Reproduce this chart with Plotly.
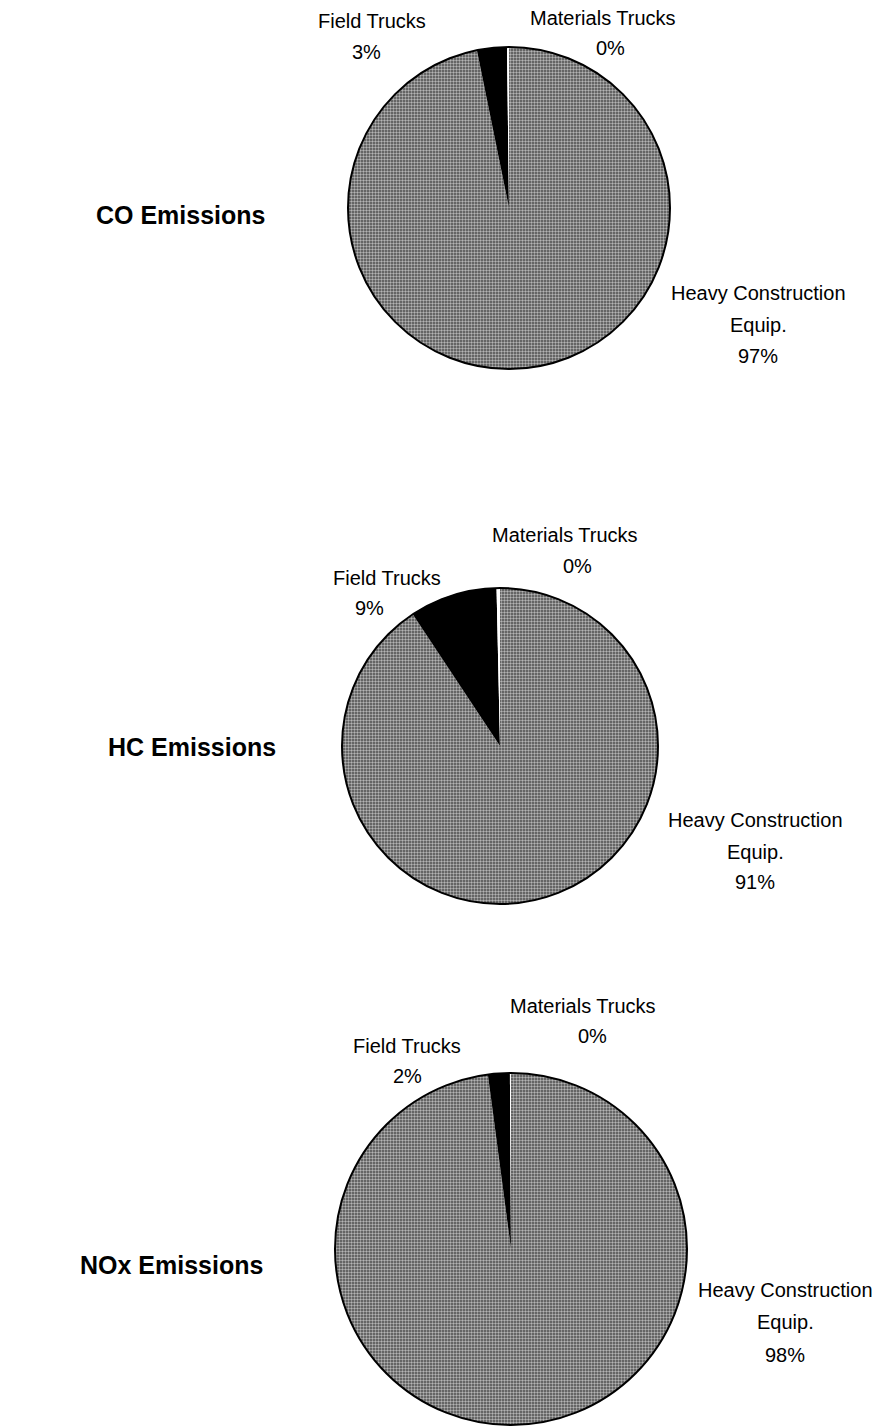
import plotly.graph_objects as go

PAGE_W, PAGE_H = 889, 1426
OFF = 8  # default body margin of the html page
W, H = PAGE_W - OFF, PAGE_H - OFF

categories = ["Heavy Construction Equip.", "Field Trucks", "Materials Trucks"]
pollutants = ["CO Emissions", "HC Emissions", "NOx Emissions"]
co_values = [97, 3, 0.2]
hc_values = [91, 9, 0.35]
nox_values = [98, 2, 0.1]
all_values = [co_values, hc_values, nox_values]

slice_colors = ["#7a7a7a", "#000000", "#ffffff"]

# pie geometry in page pixels: (center x, center y, radius)
pies = [(509, 208, 161), (500, 746, 158), (511, 1249, 176)]
# title right edge and vertical center
title_pos = [(268, 215), (278, 747), (265, 1265)]
# per chart: heavy lines (x, [y1, y2, y3]); field (name xy, pct xy); materials (name xy, pct xy)
heavy_pos = [(758, [293, 325, 356]), (755, [820, 852, 882]), (785, [1290, 1322, 1355])]
field_pos = [((372, 21), (366, 52)), ((387, 578), (369, 608)), ((407, 1046), (407, 1076))]
mat_pos = [((603, 18), (610, 48)), ((565, 535), (577, 566)), ((583, 1006), (592, 1036))]

FONT = "Liberation Sans, Arial, sans-serif"

fig = go.Figure()
annotations = []
shapes = []


def px(x):
    return (x - OFF) / W


def py(y):
    return 1 - (y - OFF) / H


def add_text(x, y, t, size=20, anchor="center", bold=False):
    annotations.append(dict(x=px(x), y=py(y), xref="paper", yref="paper",
                            text=("<b>%s</b>" % t) if bold else t, showarrow=False,
                            font=dict(family=FONT, size=size, color="black"),
                            xanchor=anchor, yanchor="middle"))


for i, (vals, (cx, cy, r)) in enumerate(zip(all_values, pies)):
    fig.add_trace(go.Pie(
        labels=categories,
        values=vals,
        sort=False,
        direction="clockwise",
        rotation=0,
        marker=dict(colors=slice_colors, line=dict(width=0),
                    pattern=dict(shape=[".", "", ""], fgcolor="#b4b4b4",
                                 bgcolor="#4a4a4a", size=3, solidity=0.5,
                                 fillmode="replace")),
        textinfo="none",
        hoverinfo="label+percent",
        showlegend=False,
        domain=dict(x=[px(cx - r), px(cx + r)], y=[py(cy + r), py(cy - r)]),
    ))
    shapes.append(dict(type="circle", xref="paper", yref="paper",
                       x0=px(cx - r), x1=px(cx + r), y0=py(cy + r), y1=py(cy - r),
                       line=dict(color="black", width=2), layer="above"))
    tx, ty = title_pos[i]
    add_text(tx, ty, pollutants[i], size=25, anchor="right", bold=True)

    total = sum(vals)
    pcts = [f"{round(v / total * 100)}%" for v in vals]
    hx, hys = heavy_pos[i]
    for t, hy in zip(["Heavy Construction", "Equip.", pcts[0]], hys):
        add_text(hx, hy, t)
    (fnx, fny), (fpx, fpy) = field_pos[i]
    add_text(fnx, fny, categories[1])
    add_text(fpx, fpy, pcts[1])
    (mnx, mny), (mpx, mpy) = mat_pos[i]
    add_text(mnx, mny, categories[2])
    add_text(mpx, mpy, pcts[2])

fig.update_layout(
    width=W, height=H,
    margin=dict(l=0, r=0, t=0, b=0),
    paper_bgcolor="white", plot_bgcolor="white",
    annotations=annotations, shapes=shapes,
)

fig.write_html("out.html")
